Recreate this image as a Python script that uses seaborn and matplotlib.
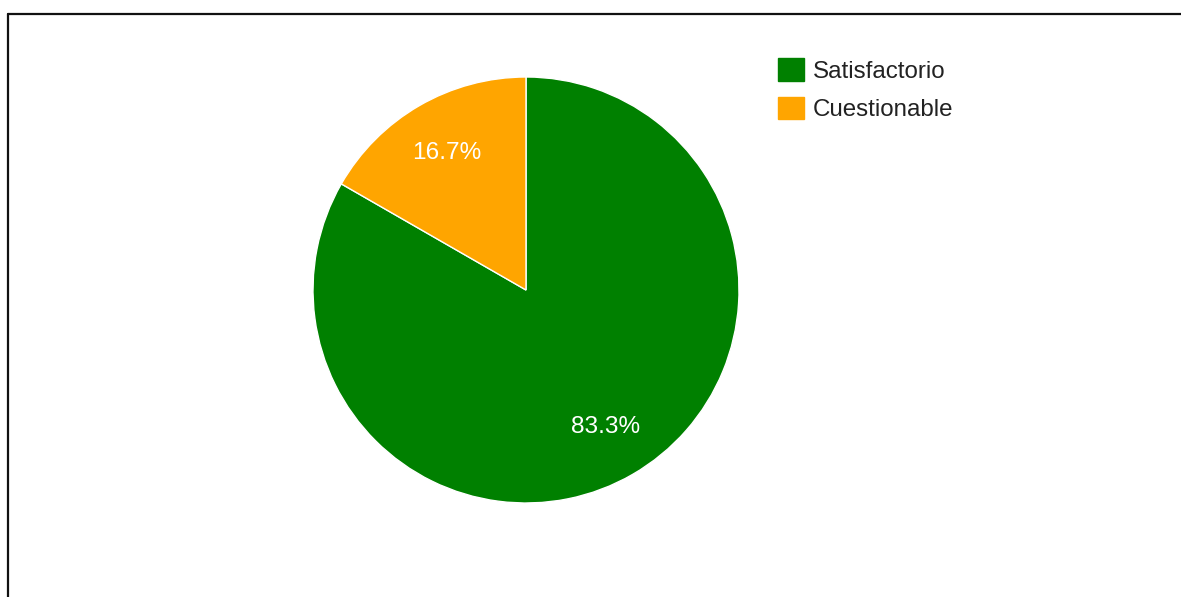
import matplotlib
matplotlib.use("Agg")
import matplotlib.pyplot as plt
from matplotlib.patches import Patch
from matplotlib.lines import Line2D
import seaborn as sns

categories = ["Satisfactorio", "Cuestionable"]
values = [83.3, 16.7]
colors = ["#008000", "#FFA500"]

sns.set_theme(style="white")
plt.rcParams["font.family"] = ["Liberation Sans", "DejaVu Sans"]
palette = sns.color_palette(colors)

W, H = 1181, 597
fig = plt.figure(figsize=(W / 100, H / 100), dpi=100)
fig.patch.set_facecolor("white")

cx, cy, r = 526, 290, 213
ax = fig.add_axes([(cx - r) / W, (H - cy - r) / H, 2 * r / W, 2 * r / H])
wedges, texts, autotexts = ax.pie(
    values, colors=palette, startangle=90, counterclock=False,
    autopct="%.1f%%", pctdistance=0.745,
    wedgeprops=dict(edgecolor="white", linewidth=1),
    textprops=dict(color="white", fontsize=17.6),
)
ax.set_xlim(-1, 1)
ax.set_ylim(-1, 1)
ax.set_aspect("equal")
ax.axis("off")

handles = [Patch(facecolor=c, edgecolor=c) for c in palette]
leg = fig.legend(handles, categories, loc="upper left",
                 bbox_to_anchor=(778 / W, 1 - 58 / H), frameon=False,
                 fontsize=17.4, handlelength=1.06, handleheight=1.06,
                 handletextpad=0.38, labelspacing=0.58, borderpad=0,
                 borderaxespad=0)
for t in leg.get_texts():
    t.set_color("#222222")

# outer frame (left and top edges visible)
fig.add_artist(Line2D([7.5 / W, 7.5 / W], [0, 1 - 13.5 / H], color="#111111", lw=1.6,
                      transform=fig.transFigure))
fig.add_artist(Line2D([7.5 / W, 1], [1 - 13.5 / H, 1 - 13.5 / H], color="#111111", lw=1.6,
                      transform=fig.transFigure))

fig.savefig("out.png", dpi=100)
